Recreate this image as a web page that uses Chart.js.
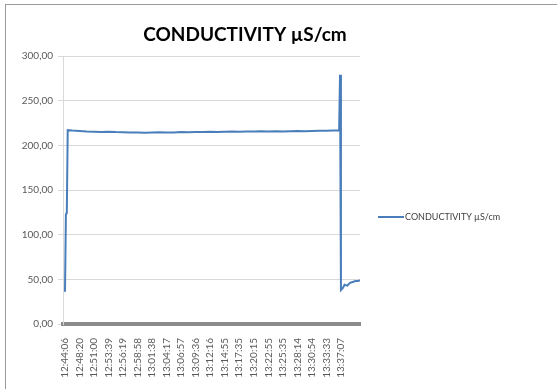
<!DOCTYPE html>
<html>
<head>
<meta charset="utf-8">
<title>Conductivity</title>
<script src="https://cdn.jsdelivr.net/npm/chart.js@4.4.1/dist/chart.umd.min.js"></script>
<style>
  html, body { margin:0; padding:0; background:#fff; }
  #wrap { position:relative; width:557px; height:389px; overflow:hidden; }
  #frame { position:absolute; left:5px; top:4px; width:600px; height:420px; border:1px solid #9a9a9a; box-sizing:border-box; }
  canvas { position:absolute; left:0; top:0; }
</style>
</head>
<body>
<div id="wrap">
  <div id="frame"></div>
  <canvas id="chart" width="557" height="389"></canvas>
</div>
<script>
// conductivity log, one sample roughly every 10 s (x = sample number)
const chartTitle = 'CONDUCTIVITY µS/cm';
const seriesName = 'CONDUCTIVITY µS/cm';

const sampleIdx = [0, 1, 2, 3, 8, 16, 24, 32, 40, 48, 56, 64, 72, 80, 88, 96, 104, 112, 120,
  128, 136, 144, 152, 160, 168, 176, 184, 192, 200, 208, 216, 224, 232, 240, 248, 256, 264,
  272, 280, 288, 296, 302, 303, 304, 306, 308, 311, 314, 317, 320, 323, 325];
const conductivity = [36, 123, 124, 217, 216.5, 216, 215.5, 215.2, 215, 215.3, 214.8, 214.6, 214.4,
  214.5, 214.2, 214.4, 214.6, 214.3, 214.5, 214.8, 214.6, 214.9, 215, 215.2, 215, 215.3, 215.5,
  215.2, 215.6, 215.4, 215.7, 215.5, 215.8, 215.6, 215.9, 216, 215.8, 216.1, 216.3, 216.2, 216.5,
  216.8, 279, 38, 40, 44, 43, 46, 47, 48, 48, 49];

// every 16th sample gets a time label
const tickIdx = [0, 16, 32, 48, 64, 80, 96, 112, 128, 144, 160, 176, 192, 208, 224, 240, 256, 272, 288, 304];
const tickLabels = ['12:44:06', '12:48:20', '12:51:00', '12:53:39', '12:56:19', '12:58:58', '13:01:38',
  '13:04:17', '13:06:57', '13:09:36', '13:12:16', '13:14:55', '13:17:35', '13:20:15', '13:22:55',
  '13:25:35', '13:28:14', '13:30:54', '13:33:33', '13:37:07'];

const yMin = 0, yMax = 300, yStep = 50;

Chart.defaults.font.family = 'Lato, "Open Sans", sans-serif';

const lineColor = '#4a7ebb';

// title and the legend key sit at fixed spots beside the plot
const titleAndKey = {
  id: 'titleAndKey',
  afterDraw(chart) {
    const ctx = chart.ctx;
    const ds = chart.data.datasets[0];
    ctx.save();
    ctx.fillStyle = '#000';
    ctx.font = 'bold 19px Lato';
    ctx.textAlign = 'center';
    ctx.textBaseline = 'alphabetic';
    ctx.fillText(chartTitle, 245, 41);

    ctx.strokeStyle = ds.borderColor;
    ctx.lineWidth = 2;
    ctx.beginPath();
    ctx.moveTo(378, 217);
    ctx.lineTo(404, 217);
    ctx.stroke();
    ctx.font = '9px Lato';
    ctx.fillStyle = '#404040';
    ctx.textAlign = 'left';
    ctx.textBaseline = 'middle';
    ctx.fillText(ds.label, 405, 217);
    ctx.restore();
  }
};

const points = sampleIdx.map((x, i) => ({ x: x, y: conductivity[i] }));

new Chart(document.getElementById('chart'), {
  type: 'line',
  data: {
    datasets: [{
      label: seriesName,
      data: points,
      borderColor: lineColor,
      backgroundColor: lineColor,
      borderWidth: 2,
      pointRadius: 0,
      tension: 0
    }]
  },
  options: {
    responsive: false,
    animation: false,
    devicePixelRatio: 1,
    layout: { padding: { top: 56, right: 197, left: 0, bottom: 0 } },
    plugins: {
      legend: { display: false },
      title: { display: false },
      tooltip: { enabled: false }
    },
    scales: {
      x: {
        type: 'linear',
        min: -2.2,
        max: 325,
        grid: { display: false },
        border: { display: true, width: 4, color: '#8c8c8c' },
        afterBuildTicks(scale) {
          scale.ticks = tickIdx.map(v => ({ value: v }));
        },
        afterFit(scale) { scale.height = 389 - 324; },
        ticks: {
          autoSkip: false,
          minRotation: 90,
          maxRotation: 90,
          padding: 6,
          color: '#595959',
          font: { size: 10 },
          callback(value) {
            const k = tickIdx.indexOf(value);
            return k >= 0 ? tickLabels[k] : '';
          }
        }
      },
      y: {
        min: yMin,
        max: yMax,
        grid: { color: '#d9d9d9', tickLength: 5 },
        border: { color: '#d9d9d9' },
        afterFit(scale) { scale.width = 63; },
        ticks: {
          stepSize: yStep,
          padding: 5,
          color: '#595959',
          font: { size: 10 },
          callback: v => v.toFixed(2).replace('.', ',')
        }
      }
    }
  },
  plugins: [titleAndKey]
});
</script>
</body>
</html>
